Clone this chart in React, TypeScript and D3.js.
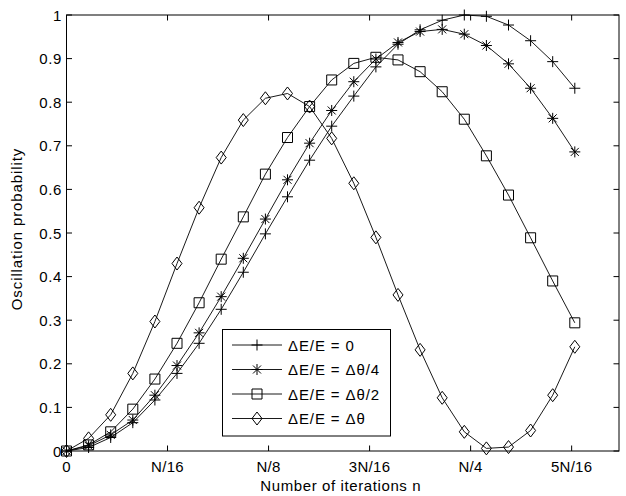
import React from "react";
import * as d3 from "d3";

const iterations = [0, 14, 28, 42, 56, 70, 84, 98, 112, 126, 140, 154, 168, 182, 196, 210, 224, 238, 252, 266, 280, 294, 308, 322];

const pZero = [0, 0.008, 0.031, 0.065, 0.117, 0.178, 0.247, 0.325, 0.41, 0.498, 0.583, 0.667, 0.745, 0.814, 0.881, 0.933, 0.966, 0.988, 1.0, 0.997, 0.977, 0.941, 0.893, 0.832];
const pQuarter = [0, 0.012, 0.037, 0.071, 0.128, 0.196, 0.271, 0.354, 0.442, 0.532, 0.622, 0.706, 0.781, 0.847, 0.899, 0.937, 0.962, 0.967, 0.956, 0.93, 0.888, 0.832, 0.763, 0.686];
const pHalf = [0, 0.014, 0.044, 0.096, 0.165, 0.247, 0.34, 0.44, 0.537, 0.635, 0.719, 0.79, 0.851, 0.889, 0.903, 0.897, 0.87, 0.824, 0.761, 0.677, 0.587, 0.489, 0.39, 0.294];
const pFull = [0, 0.029, 0.083, 0.178, 0.297, 0.43, 0.558, 0.673, 0.759, 0.809, 0.82, 0.79, 0.717, 0.614, 0.49, 0.358, 0.232, 0.122, 0.044, 0.006, 0.009, 0.047, 0.128, 0.239];

const seriesNames = ["ΔE/E = 0", "ΔE/E = Δθ/4", "ΔE/E = Δθ/2", "ΔE/E = Δθ"];
const seriesMarkers = ["plus", "star", "square", "diamond"];
const seriesValues = [pZero, pQuarter, pHalf, pFull];

const xTickValues = [0, 64, 128, 192, 256, 320];
const xTickLabels = ["0", "N/16", "N/8", "3N/16", "N/4", "5N/16"];
const yTickValues = [0, 0.1, 0.2, 0.3, 0.4, 0.5, 0.6, 0.7, 0.8, 0.9, 1];
const yTickLabels = ["0", "0.1", "0.2", "0.3", "0.4", "0.5", "0.6", "0.7", "0.8", "0.9", "1"];
const xDomain = [0, 350];

const W = 626;
const H = 496;
const L = 66.5;
const R = 619;
const T = 15;
const B = 451;
const FONT = "Arial, 'Liberation Sans', Helvetica, sans-serif";

function markerPath(type: string, x: number, y: number): string {
  const p = 5.5;
  if (type === "plus") {
    return `M${x - p},${y}H${x + p}M${x},${y - p}V${y + p}`;
  }
  if (type === "star") {
    const d = 4;
    return `M${x - p},${y}H${x + p}M${x},${y - p}V${y + p}M${x - d},${y - d}L${x + d},${y + d}M${x - d},${y + d}L${x + d},${y - d}`;
  }
  if (type === "square") {
    const s = 5;
    return `M${x - s},${y - s}H${x + s}V${y + s}H${x - s}Z`;
  }
  // diamond
  return `M${x},${y - 6.5}L${x + 5},${y}L${x},${y + 6.5}L${x - 5},${y}Z`;
}

export default function App() {
  const x = d3.scaleLinear().domain(xDomain).range([L, R]);
  const y = d3.scaleLinear().domain([0, 1]).range([B, T]);
  const line = d3
    .line<number>()
    .x((_, i) => x(iterations[i]))
    .y((d) => y(d));

  const tick = 5.5;
  const legendX = 222.5;
  const legendY = 329.5;
  const legendW = 168;
  const legendH = 106.5;
  const rowY = (i: number) => 345 + i * 24.5;

  return (
    <svg
      width={W}
      height={H}
      style={{ position: "absolute", left: 0, top: 0, background: "#fff" }}
      fontFamily={FONT}
    >
      <rect x={0} y={0} width={W} height={H} fill="#fff" />
      {seriesValues.map((vals, si) => (
        <g key={si}>
          <path d={line(vals) || ""} fill="none" stroke="#000" strokeWidth={0.9} />
          {vals.map((v, i) => (
            <path
              key={i}
              d={markerPath(seriesMarkers[si], x(iterations[i]), y(v))}
              fill="none"
              stroke="#000"
              strokeWidth={1}
            />
          ))}
        </g>
      ))}
      <rect x={L} y={T} width={R - L} height={B - T} fill="none" stroke="#000" strokeWidth={1} />
      {xTickValues.map((v, i) => (
        <g key={"xt" + i}>
          <line x1={x(v)} x2={x(v)} y1={B} y2={B - tick} stroke="#000" />
          <line x1={x(v)} x2={x(v)} y1={T} y2={T + tick} stroke="#000" />
          <text x={x(v)} y={472} textAnchor="middle" fontSize={15} letterSpacing={0.3} fill="#000">
            {xTickLabels[i]}
          </text>
        </g>
      ))}
      {yTickValues.map((v, i) => (
        <g key={"yt" + i}>
          <line x1={L} x2={L + tick} y1={y(v)} y2={y(v)} stroke="#000" />
          <line x1={R} x2={R - tick} y1={y(v)} y2={y(v)} stroke="#000" />
          <text x={62} y={y(v) + 5.5} textAnchor="end" fontSize={15} letterSpacing={0.6} fill="#000">
            {yTickLabels[i]}
          </text>
        </g>
      ))}
      <text x={(L + R) / 2 - 2} y={491} textAnchor="middle" fontSize={15} letterSpacing={0.6} fill="#000">
        Number of iterations n
      </text>
      <text
        transform={`translate(22,${(T + B) / 2 - 4}) rotate(-90)`}
        textAnchor="middle"
        fontSize={15}
        letterSpacing={0.9}
        fill="#000"
      >
        Oscillation probability
      </text>
      <rect x={legendX} y={legendY} width={legendW} height={legendH} fill="#fff" stroke="#000" strokeWidth={1} />
      {seriesNames.map((name, i) => (
        <g key={"lg" + i}>
          <line x1={232} x2={282} y1={rowY(i)} y2={rowY(i)} stroke="#000" strokeWidth={0.9} />
          <path d={markerPath(seriesMarkers[i], 257, rowY(i))} fill="none" stroke="#000" strokeWidth={1} />
          <text x={288} y={rowY(i) + 5.5} fontSize={15} letterSpacing={0.9} fill="#000">
            {name}
          </text>
        </g>
      ))}
    </svg>
  );
}
